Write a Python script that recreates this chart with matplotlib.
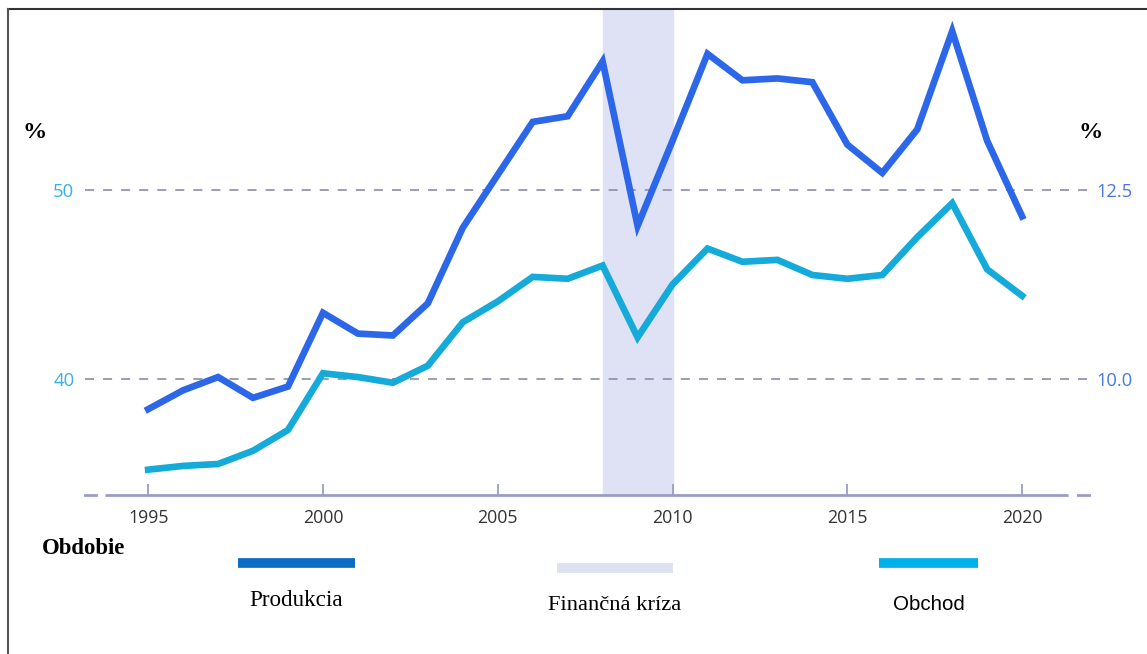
import matplotlib.pyplot as plt
from matplotlib.lines import Line2D

years = list(range(1995, 2021))
produkcia = [38.4, 39.4, 40.1, 39.0, 39.6, 43.5, 42.4, 42.3, 44.0, 48.0, 50.8,
             53.6, 53.9, 56.8, 48.1, 52.6, 57.2, 55.8, 55.9, 55.7, 52.4, 50.9,
             53.2, 58.4, 52.6, 48.6]
obchod = [35.2, 35.4, 35.5, 36.2, 37.3, 40.3, 40.1, 39.8, 40.7, 43.0, 44.1,
          45.4, 45.3, 46.0, 42.2, 45.0, 46.9, 46.2, 46.3, 45.5, 45.3, 45.5,
          47.5, 49.3, 45.8, 44.4]
kriza = (2008, 2010)
xticks = [1995, 2000, 2005, 2010, 2015, 2020]
left_ticks = [40, 50]
right_ticks = [10.0, 12.5]

W, H = 1147, 654
fig = plt.figure(figsize=(W / 100, H / 100), dpi=100)
fig.patch.set_facecolor('white')

def px(x, y):
    return x / W, 1 - y / H

ax = fig.add_axes([80 / W, (H - 495) / H, 990 / W, 485 / H])
ax.set_facecolor('none')
ax.set_xlim(1993.05, 2021.37)
ax.set_ylim(33.86, 59.52)
for s in ax.spines.values():
    s.set_visible(False)

ax.axvspan(kriza[0], kriza[1], color='#dfe1f5', zorder=0)

# dashed gridlines
for v in left_ticks:
    ax.plot([1993.2, 2021.9], [v, v], color='#9296ad', lw=1.3,
            dashes=(5, 5), clip_on=False, zorder=1)

# bottom axis
axc = '#9a9cc6'
ax.plot([1993.77, 2021.3], [0, 0], color=axc, lw=2,
        transform=ax.get_xaxis_transform(), clip_on=False, solid_capstyle='butt')
ax.plot([1993.2, 1993.5], [0, 0], color=axc, lw=2,
        transform=ax.get_xaxis_transform(), clip_on=False)
ax.plot([2021.6, 2021.9], [0, 0], color=axc, lw=2,
        transform=ax.get_xaxis_transform(), clip_on=False)

ax.plot(years, produkcia, color='#2b67e8', lw=4.8, solid_joinstyle='miter', zorder=3)
ax.plot(years, obchod, color='#14aad9', lw=4.8, solid_joinstyle='miter', zorder=3)

ax.set_xticks(xticks)
ax.set_xticklabels([str(x) for x in xticks], fontfamily='Open Sans', fontsize=12.8,
                   color='#333333')
ax.tick_params(axis='x', direction='in', length=8, width=1.3, color=axc, pad=10)

ax.set_yticks(left_ticks)
ax.set_yticklabels([str(v) for v in left_ticks], fontfamily='Open Sans',
                   fontsize=13.3, color='#3aaee8')
ax.tick_params(axis='y', length=0, pad=4)

ax2 = ax.twinx()
ax2.set_ylim(33.86 / 4, 59.52 / 4)
for s in ax2.spines.values():
    s.set_visible(False)
ax2.set_yticks(right_ticks)
ax2.set_yticklabels(['%.1f' % v for v in right_ticks], fontfamily='Open Sans',
                    fontsize=13.2, color='#4a78e0')
ax2.tick_params(axis='y', length=0, pad=19)

serif = 'Liberation Serif'
fig.text(*px(35, 133), '%', ha='center', va='center', fontfamily=serif,
         fontweight='bold', fontsize=17.5)
fig.text(*px(1091, 133), '%', ha='center', va='center', fontfamily=serif,
         fontweight='bold', fontsize=17.5)
fig.text(*px(42, 548), 'Obdobie', ha='left', va='center', fontfamily=serif,
         fontweight='bold', fontsize=16.4)

# legend
legend = [
    ('Produkcia', '#0b6cc4', 238, 355, 563, 601, serif, 16.7),
    ('Finančná kríza', '#dde2f1', 557, 673, 568, 605, serif, 16.2),
    ('Obchod', '#00b0ea', 879, 978, 563, 604, 'Liberation Sans', 14.8),
]
for label, col, x0, x1, yb, yt, fam, fs in legend:
    fig.add_artist(Line2D([x0 / W, x1 / W], [1 - yb / H] * 2, color=col, lw=7,
                          solid_capstyle='butt', transform=fig.transFigure))
    fig.text(*px((x0 + x1) / 2, yt), label, ha='center', va='center',
             fontfamily=fam, fontsize=fs)

# frame (top and left)
fig.add_artist(Line2D([8 / W, 1], [1 - 9 / H] * 2, color='#333333', lw=1.5,
                      transform=fig.transFigure))
fig.add_artist(Line2D([8 / W] * 2, [0, 1 - 9 / H], color='#555555', lw=1.5,
                      transform=fig.transFigure))

fig.savefig('out.png', dpi=100)
